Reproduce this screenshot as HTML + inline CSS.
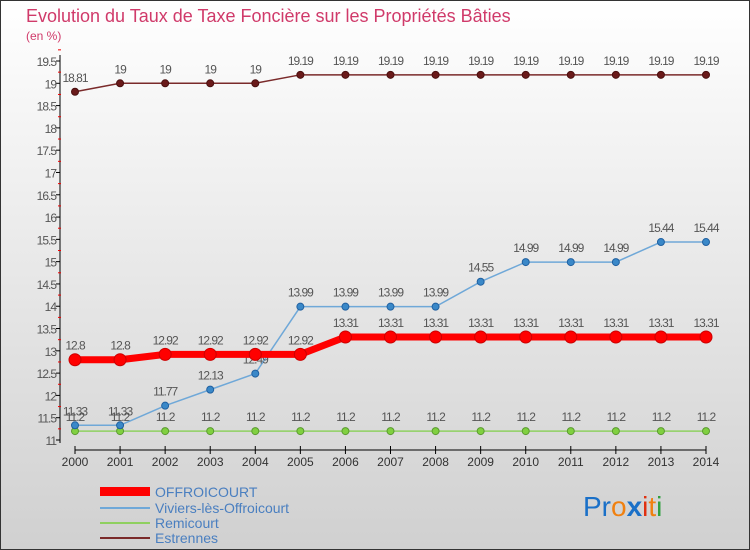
<!DOCTYPE html>
<html><head><meta charset="utf-8"><style>
body{margin:0;width:750px;height:550px;overflow:hidden}
svg{display:block;font-family:"Liberation Sans",sans-serif}
</style></head><body>
<svg id="chart" width="750" height="550">
<defs><linearGradient id="bg" x1="0" y1="0" x2="0" y2="1"><stop offset="0" stop-color="#ffffff"/><stop offset="1" stop-color="#d0d0d0"/></linearGradient></defs>
<rect x="0.5" y="0.5" width="749" height="549" fill="url(#bg)" stroke="#333"/>
<text x="26" y="22" font-size="18" fill="#d03a6a">Evolution du Taux de Taxe Foncière sur les Propriétés Bâties</text>
<text x="26" y="40" font-size="12" fill="#d03a6a">(en %)</text>
<g id="axes"></g><g id="series"></g>
<g>
<rect x="100" y="487" width="50" height="9" fill="#ff0000"/>
<text x="155" y="497" font-size="14" fill="#4a7fc0">OFFROICOURT</text>
<line x1="100" y1="508" x2="150" y2="508" stroke="#6fa8d8" stroke-width="2"/>
<text x="155" y="513" font-size="14" fill="#4a7fc0">Viviers-lès-Offroicourt</text>
<line x1="100" y1="523" x2="150" y2="523" stroke="#8fd060" stroke-width="2"/>
<text x="155" y="528" font-size="14" fill="#4a7fc0">Remicourt</text>
<line x1="100" y1="538" x2="150" y2="538" stroke="#7a2a2a" stroke-width="2"/>
<text x="155" y="543" font-size="14" fill="#4a7fc0">Estrennes</text>
</g>
<g font-size="28">
<text x="583" y="516"><tspan fill="#1a70c8">Pr</tspan><tspan fill="#f08010">o</tspan><tspan fill="#1a70c8" font-weight="bold">x</tspan><tspan fill="#e03010">i</tspan><tspan fill="#f08010">t</tspan><tspan fill="#30a040">i</tspan></text>
</g>
</svg>
<script>
const years=[2000,2001,2002,2003,2004,2005,2006,2007,2008,2009,2010,2011,2012,2013,2014];
const offroicourt=[12.8,12.8,12.92,12.92,12.92,12.92,13.31,13.31,13.31,13.31,13.31,13.31,13.31,13.31,13.31];
const viviers=[11.33,11.33,11.77,12.13,12.49,13.99,13.99,13.99,13.99,14.55,14.99,14.99,14.99,15.44,15.44];
const remicourt=[11.2,11.2,11.2,11.2,11.2,11.2,11.2,11.2,11.2,11.2,11.2,11.2,11.2,11.2,11.2];
const estrennes=[18.81,19,19,19,19,19.19,19.19,19.19,19.19,19.19,19.19,19.19,19.19,19.19,19.19];
const yTicks=[11,11.5,12,12.5,13,13.5,14,14.5,15,15.5,16,16.5,17,17.5,18,18.5,19,19.5];
const NS="http://www.w3.org/2000/svg";
function X(i){return 75+i*(706-75)/(years.length-1);}
function Y(v){return 440-(v-11)*(440-61)/8.5;}
function mk(t,a,p){const e=document.createElementNS(NS,t);for(const k in a)e.setAttribute(k,a[k]);p.appendChild(e);return e;}
const ax=document.getElementById('axes');
const yl=mk('line',{x1:60,y1:55,x2:60,y2:443,stroke:'#000'},ax);


yTicks.forEach(v=>{
 const t=mk('line',{x1:56,y1:Y(v),x2:60,y2:Y(v),stroke:'#000'},ax);
 
 
 const m=mk('line',{x1:58,y1:Y(v+0.25),x2:61,y2:Y(v+0.25),stroke:'#e00'},ax);
 
 
 const l=mk('text',{x:56,y:Y(v)+5,'text-anchor':'end','font-size':12,fill:'#555','letter-spacing':'-1'},ax);
 l.textContent=String(v);
 
 
});
const xl=mk('line',{x1:X(0),y1:450,x2:X(years.length-1),y2:450,stroke:'#000'},ax);


years.forEach((y,i)=>{
 const t=mk('line',{x1:X(i),y1:446,x2:X(i),y2:454,stroke:'#000'},ax);
 
 
 const l=mk('text',{x:X(i),y:466,'text-anchor':'middle','font-size':12,fill:'#333'},ax);
 l.textContent=y;
 
 
});
const sg=document.getElementById('series');
function series(vals,name,color,lw,r,dot,dotStroke){
 const g=mk('g',{},sg);
 
 
 const pl=mk('polyline',{points:vals.map((v,i)=>X(i)+','+Y(v)).join(' '),fill:'none',stroke:color,'stroke-width':lw},g);
 
 
 vals.forEach((v,i)=>{
  const c=mk('circle',{cx:X(i),cy:Y(v),r:r,fill:dot,stroke:dotStroke,'stroke-width':1},g);
  
  
  const l=mk('text',{x:X(i),y:Y(v)-10,'text-anchor':'middle','font-size':12,fill:'#555','letter-spacing':'-1'},g);
  l.textContent=String(v);
  
  
 });
}
series(estrennes,'estrennes','#7a2a2a',1.5,3.5,'#6a1a1a','#4a1010');
series(remicourt,'remicourt','#8fd060',1.5,3.5,'#80d040','#5a9a30');
series(viviers,'viviers','#6fa8d8',1.5,3.5,'#3a88c8','#2060a0');
series(offroicourt,'offroicourt','#ff0000',7,6,'#ff0000','#cc0000');
</script>
</body></html>
